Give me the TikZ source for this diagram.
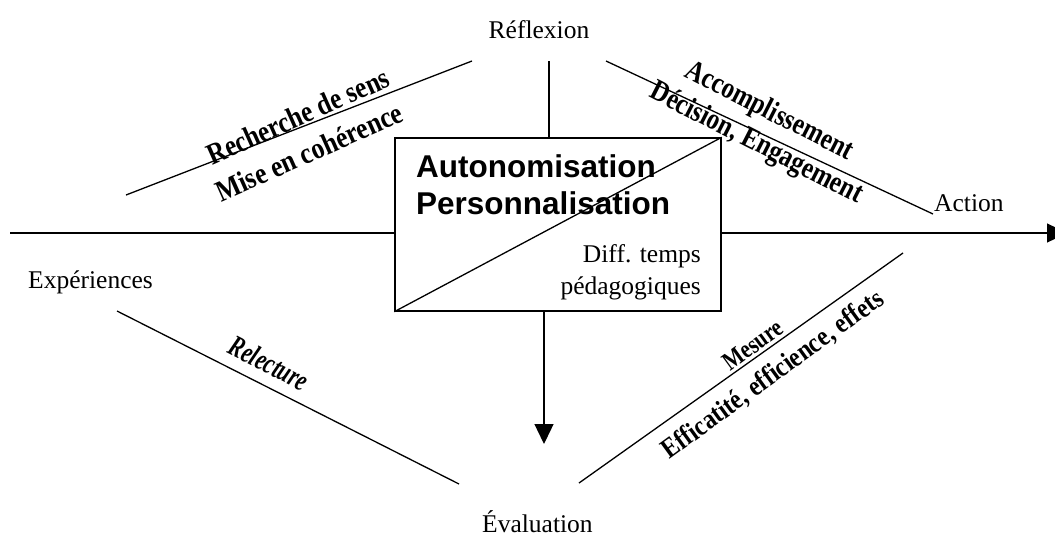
\documentclass[tikz,border=0pt]{standalone}
\usepackage{fontspec}
\setmainfont{Liberation Serif}
\newfontfamily\sansbold{Liberation Sans}[BoldFont={* Bold}]
\usetikzlibrary{arrows.meta}
\newcommand\labfont{\fontsize{25.5}{30}\selectfont}
\newcommand\wafont[1]{\fontsize{#1}{#1}\selectfont\bfseries}
\begin{document}
\begin{tikzpicture}[x=1pt,y=-1pt,
  line/.style={line width=1.3pt},
  lab/.style={inner sep=0pt,font=\labfont},
  wa/.style={inner sep=0pt,text=black},
  boxtext/.style={inner sep=0pt,anchor=base west,font=\fontsize{31.5}{37}\selectfont\sansbold\bfseries},
  centrebox/.style={draw,line width=1.4pt,minimum width=326pt,minimum height=173pt,inner sep=0pt}]
\useasboundingbox (0,0) rectangle (1055,539);
% central box
\node[centrebox] (box) at (558,224.5) {};
\draw[line] (box.south west) -- (box.north east);
\node[boxtext] (auto) at (416,177) {Autonomisation};
\node[boxtext] (pers) at (416,214) {Personnalisation};
\node[lab,anchor=base east] (diff) at (701,262) {Diff. temps};
\node[lab,anchor=base east] (peda) at (701,294) {pédagogiques};
% pole labels
\node[lab,anchor=base] (refl) at (539,38) {Réflexion};
\node[lab,anchor=base west] (exp) at (28,288) {Expériences};
\node[lab,anchor=base west] (act) at (934,211) {Action};
\node[lab,anchor=base west] (eval) at (482,532) {Évaluation};
% axes
\coordinate (hl) at (10,233);
\coordinate (hr) at (1067,233);
\coordinate (vt) at (549,61);
\coordinate (vb) at (544,444);
\draw[line] (hl) -- (hl -| box.west);
\draw[line,-{Triangle[width=19pt,length=20pt]}] (hr -| box.east) -- (hr);
\draw[line] (vt) -- (vt |- box.north);
\draw[line,-{Triangle[width=19pt,length=20pt]}] (vb |- box.south) -- (vb);
% slanted lines
\coordinate (ul1) at (126,195); \coordinate (ul2) at (472,61);
\coordinate (ur1) at (606,61);  \coordinate (ur2) at (933,214);
\coordinate (ll1) at (117,311); \coordinate (ll2) at (459,484);
\coordinate (lr1) at (579,483); \coordinate (lr2) at (903,253);
\draw[line] (ul1) -- (ul2);
\draw[line] (ur1) -- (ur2);
\draw[line] (ll1) -- (ll2);
\draw[line] (lr1) -- (lr2);
% WordArt labels
\node[wa,rotate=24,xscale=0.845,font=\wafont{30}] (rech) at (298,116) {Recherche de sens};
\node[wa,rotate=24,xscale=0.86,font=\wafont{30}] (mise) at (309,152) {Mise en cohérence};
\node[wa,rotate=-27,xscale=0.825,font=\wafont{30}] (acc) at (769,112) {Accomplissement};
\node[wa,rotate=-27,xscale=0.83,font=\wafont{30}] (dec) at (756,144) {Décision, Engagement};
\node[wa,rotate=-27,xscale=0.72,font=\wafont{30}\itshape] (rel) at (269,363) {Relecture};
\node[wa,rotate=36,xscale=0.81,font=\wafont{26}] (mes) at (753,345) {Mesure};
\node[wa,rotate=36,xscale=0.85,font=\wafont{28}] (eff) at (773,375) {Efficatité, efficience, effets};
\end{tikzpicture}
\end{document}
